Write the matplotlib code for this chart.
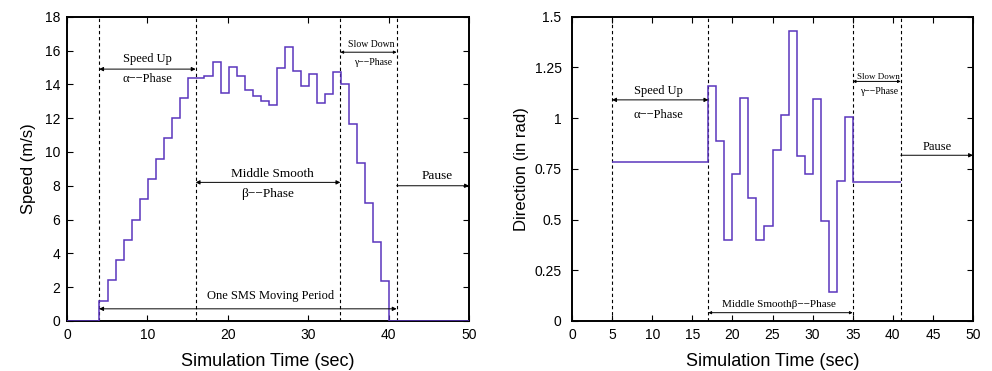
import matplotlib
matplotlib.use("Agg")
import matplotlib.pyplot as plt
import numpy as np

# ---------------- data ----------------
speed_time_edges = [0, 4.0] + [5.1 + k for k in range(36)] + [50]
speed_values = [0, 1.2, 2.4, 3.6, 4.8, 6.0, 7.2, 8.4, 9.6, 10.8, 12.0, 13.2,
                14.4, 14.4, 14.5, 15.3, 13.5, 15.0, 14.5, 13.65, 13.3, 13.0,
                12.8, 14.95, 16.2, 14.8, 13.9, 14.6, 12.9, 13.45, 14.7, 14.0,
                11.65, 9.33, 7.0, 4.65, 2.35, 0]

dir_time_edges = [5] + list(range(17, 36)) + [41]
dir_values = [0.785, 1.157, 0.889, 0.40, 0.725, 1.10, 0.608, 0.40, 0.468,
              0.843, 1.014, 1.431, 0.815, 0.725, 1.094, 0.494, 0.145, 0.692,
              1.007, 0.687]

speed_phase_times = [4, 16, 34, 41]
dir_phase_times = [5, 17, 35, 41]

speed_xticks = [0, 10, 20, 30, 40, 50]
speed_yticks = [0, 2, 4, 6, 8, 10, 12, 14, 16, 18]
dir_xticks = [0, 5, 10, 15, 20, 25, 30, 35, 40, 45, 50]
dir_yticks = [0, 0.25, 0.5, 0.75, 1, 1.25, 1.5]
dir_yticklabels = ["0", "0.25", "0.5", "0.75", "1", "1.25", "1.5"]

# ---------------- style ----------------
LINE = "#5a35bd"
SANS = ["Liberation Sans", "DejaVu Sans"]
SERIF = ["Liberation Serif", "DejaVu Serif"]

fig = plt.figure(figsize=(9.92, 3.71), dpi=100)
ax1 = fig.add_axes([67/992, 50/371, 402/992, 304.3/371])
ax2 = fig.add_axes([572/992, 50/371, 401/992, 304.3/371])


def style(ax, ypad):
    for s in ax.spines.values():
        s.set_linewidth(1.4)
    ax.tick_params(direction="in", top=True, right=True, length=4, width=0.8,
                   labelsize=10)
    ax.tick_params(axis="x", pad=5)
    ax.tick_params(axis="y", pad=ypad)
    for lab in ax.get_xticklabels() + ax.get_yticklabels():
        lab.set_family(SANS)


def darrow(ax, x0, x1, y, lw=0.7, ms=6):
    ax.annotate("", xy=(x1, y), xytext=(x0, y),
                arrowprops=dict(arrowstyle="<|-|>", lw=lw, color="black",
                                mutation_scale=ms, shrinkA=0, shrinkB=0))


def rarrow(ax, x0, x1, y, lw=0.7, ms=6):
    ax.annotate("", xy=(x1, y), xytext=(x0, y),
                arrowprops=dict(arrowstyle="-|>", lw=lw, color="black",
                                mutation_scale=ms, shrinkA=0, shrinkB=0),
                annotation_clip=False)


# ---------------- left: speed ----------------
ax1.stairs(speed_values, speed_time_edges, baseline=None, color=LINE, lw=1.1,
           zorder=3)
for t in speed_phase_times:
    ax1.axvline(t, color="black", lw=0.8, ls=(0, (3, 2.5)))
ax1.set_xlim(0, 50)
ax1.set_ylim(0, 18)
ax1.set_xticks(speed_xticks)
ax1.set_yticks(speed_yticks)
style(ax1, 5)
ax1.set_xlabel("Simulation Time (sec)", family=SANS, fontsize=13, labelpad=8)
ax1.set_ylabel("Speed (m/s)", family=SANS, fontsize=12, labelpad=6)

darrow(ax1, 4, 16, 14.9)
ax1.text(10, 15.5, "Speed Up", family=SERIF, fontsize=9, ha="center", va="center")
ax1.text(10, 14.3, "α−−Phase", family=SERIF, fontsize=9, ha="center", va="center")

darrow(ax1, 16, 34, 8.2)
ax1.text(25.6, 8.7, "Middle Smooth", family=SERIF, fontsize=9.5, ha="center", va="center")
ax1.text(25.0, 7.5, "β−−Phase", family=SERIF, fontsize=9.5, ha="center", va="center")

darrow(ax1, 34, 41, 15.9, ms=4)
ax1.text(37.8, 16.35, "Slow Down", family=SERIF, fontsize=7, ha="center", va="center")
ax1.text(38.1, 15.3, "γ−−Phase", family=SERIF, fontsize=7, ha="center", va="center")

rarrow(ax1, 41, 50, 8.0)
ax1.text(46.0, 8.6, "Pause", family=SERIF, fontsize=9.5, ha="center", va="center")

darrow(ax1, 4, 41, 0.72)
ax1.text(25.3, 1.45, "One SMS Moving Period", family=SERIF, fontsize=9,
         ha="center", va="center")

# ---------------- right: direction ----------------
ax2.stairs(dir_values, dir_time_edges, baseline=None, color=LINE, lw=1.1,
           zorder=3)
for t in dir_phase_times:
    ax2.axvline(t, color="black", lw=0.8, ls=(0, (3, 2.5)))
ax2.set_xlim(0, 50)
ax2.set_ylim(0, 1.5)
ax2.set_xticks(dir_xticks)
ax2.set_yticks(dir_yticks)
ax2.set_yticklabels(dir_yticklabels)
style(ax2, 7.5)
ax2.set_xlabel("Simulation Time (sec)", family=SANS, fontsize=13, labelpad=8)
ax2.set_ylabel("Direction (in rad)", family=SANS, fontsize=12, labelpad=4)

darrow(ax2, 5, 17, 1.09)
ax2.text(10.8, 1.135, "Speed Up", family=SERIF, fontsize=9, ha="center", va="center")
ax2.text(10.8, 1.015, "α−−Phase", family=SERIF, fontsize=9, ha="center", va="center")

darrow(ax2, 17, 35, 0.041, ms=4)
ax2.text(25.8, 0.08, "Middle Smoothβ−−Phase", family=SERIF, fontsize=8,
         ha="center", va="center")

darrow(ax2, 35, 41, 1.181, ms=4)
ax2.text(38.2, 1.205, "Slow Down", family=SERIF, fontsize=6.5, ha="center", va="center")
ax2.text(38.3, 1.13, "γ−−Phase", family=SERIF, fontsize=7, ha="center", va="center")

rarrow(ax2, 41, 50, 0.817)
ax2.text(45.5, 0.86, "Pause", family=SERIF, fontsize=9, ha="center", va="center")

fig.savefig("out.png", dpi=100)
